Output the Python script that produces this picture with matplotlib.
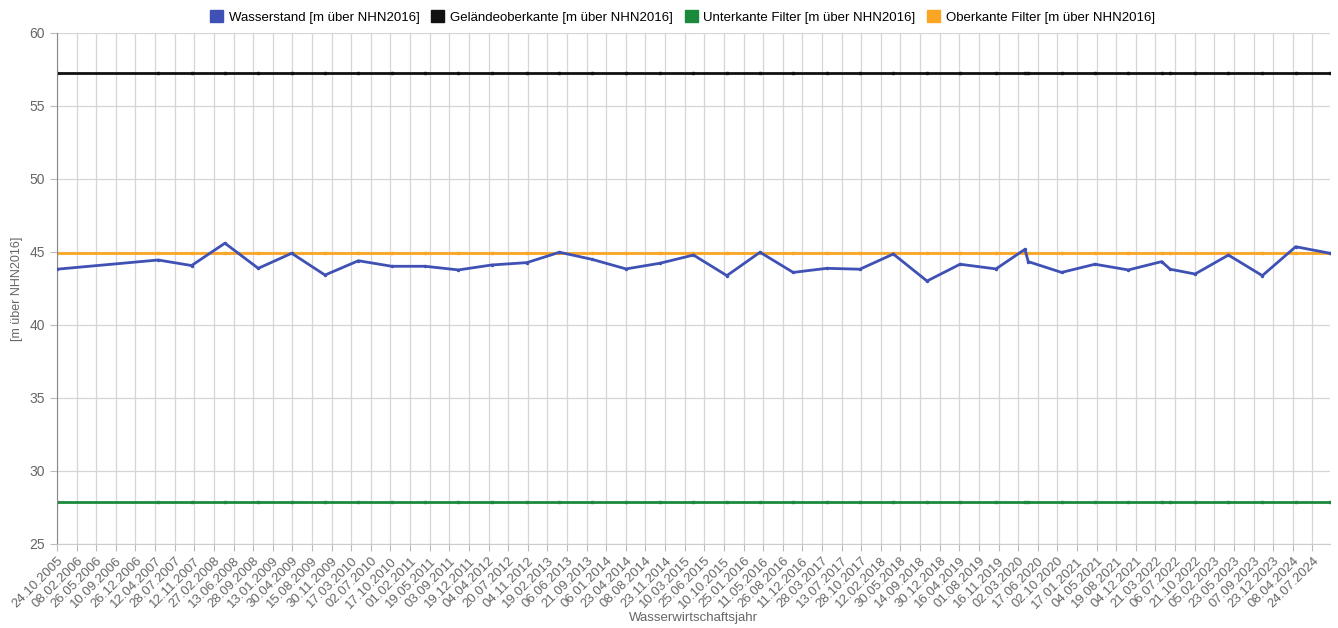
import matplotlib
matplotlib.use("Agg")
import matplotlib.dates as mdates
import matplotlib.pyplot as plt
import pandas as pd
from matplotlib.patches import Patch

plt.rcParams["font.family"] = ["Liberation Sans", "DejaVu Sans"]

# measurement dates and water level [m über NHN2016]
mess_datum = [
    "2005-10-24", "2007-04-29", "2007-10-28", "2008-04-27", "2008-10-26",
    "2009-04-26", "2009-10-25", "2010-04-25", "2010-10-24", "2011-04-24",
    "2011-10-23", "2012-04-22", "2012-10-30", "2013-04-26", "2013-10-19",
    "2014-04-24", "2014-10-27", "2015-04-27", "2015-10-26", "2016-04-24",
    "2016-10-22", "2017-04-23", "2017-10-21", "2018-04-21", "2018-10-22",
    "2019-04-20", "2019-11-02", "2020-04-08", "2020-04-26", "2020-10-25",
    "2021-04-25", "2021-10-24", "2022-04-24", "2022-06-09", "2022-10-23",
    "2023-04-23", "2023-10-25", "2024-04-24", "2024-10-28",
]
wasserstand = [
    43.82, 44.45, 44.07, 45.60, 43.88,
    44.91, 43.42, 44.40, 44.02, 44.02,
    43.77, 44.11, 44.27, 44.98, 44.50,
    43.84, 44.23, 44.79, 43.38, 44.98,
    43.60, 43.88, 43.82, 44.86, 43.01,
    44.16, 43.84, 45.18, 44.34, 43.60,
    44.16, 43.77, 44.34, 43.82, 43.49,
    44.79, 43.38, 45.36, 44.91,
]
gelaendeoberkante = 57.25
unterkante_filter = 27.9
oberkante_filter = 44.9

tick_labels = [
    "24.10.2005", "08.02.2006", "26.05.2006", "10.09.2006", "26.12.2006",
    "12.04.2007", "28.07.2007", "12.11.2007", "27.02.2008", "13.06.2008",
    "28.09.2008", "13.01.2009", "30.04.2009", "15.08.2009", "30.11.2009",
    "17.03.2010", "02.07.2010", "17.10.2010", "01.02.2011", "19.05.2011",
    "03.09.2011", "19.12.2011", "04.04.2012", "20.07.2012", "04.11.2012",
    "19.02.2013", "06.06.2013", "21.09.2013", "06.01.2014", "23.04.2014",
    "08.08.2014", "23.11.2014", "10.03.2015", "25.06.2015", "10.10.2015",
    "25.01.2016", "11.05.2016", "26.08.2016", "11.12.2016", "28.03.2017",
    "13.07.2017", "28.10.2017", "12.02.2018", "30.05.2018", "14.09.2018",
    "30.12.2018", "16.04.2019", "01.08.2019", "16.11.2019", "02.03.2020",
    "17.06.2020", "02.10.2020", "17.01.2021", "04.05.2021", "19.08.2021",
    "04.12.2021", "21.03.2022", "06.07.2022", "21.10.2022", "05.02.2023",
    "23.05.2023", "07.09.2023", "23.12.2023", "08.04.2024", "24.07.2024",
]

BLUE = "#3F51B5"
BLACK = "#111111"
GREEN = "#1B8A3C"
ORANGE = "#FBA524"
GREY = "#666666"

dates = pd.to_datetime(mess_datum)
ticks = pd.to_datetime(tick_labels, format="%d.%m.%Y")

fig = plt.figure(figsize=(13.38, 6.28), dpi=100)
ax = fig.add_axes([0.0426, 0.1338, 0.9514, 0.8137])

const_kw = dict(lw=2, marker="s", ms=2, zorder=2)
ax.plot(dates, [gelaendeoberkante] * len(dates), color=BLACK, **const_kw)
ax.plot(dates, [unterkante_filter] * len(dates), color=GREEN, **const_kw)
ax.plot(dates, [oberkante_filter] * len(dates), color=ORANGE, **const_kw)
ax.plot(dates, wasserstand, color=BLUE, lw=2, marker="o", ms=1.5, zorder=3)

ax.set_xlim(dates[0], dates[-1])
ax.set_ylim(25, 60)
ax.set_yticks(range(25, 61, 5))
ax.set_xticks(ticks)
ax.set_xticklabels(tick_labels, rotation=45, ha="right", va="top",
                   rotation_mode="anchor", fontsize=9.5, color=GREY)
ax.tick_params(axis="y", labelsize=10, colors=GREY, length=5, color="#bbbbbb")
ax.tick_params(axis="x", length=5, color="#bbbbbb", pad=3)
ax.grid(True, color="#d6d6d6", lw=0.9)
ax.set_axisbelow(True)
for side in ("top", "right"):
    ax.spines[side].set_visible(False)
ax.spines["left"].set_color("#888888")
ax.spines["bottom"].set_color("#cccccc")

ax.set_ylabel("[m über NHN2016]", fontsize=9, color=GREY, labelpad=5)
ax.set_xlabel("Wasserwirtschaftsjahr", fontsize=9.5, color=GREY, labelpad=1)

handles = [Patch(color=c) for c in (BLUE, BLACK, GREEN, ORANGE)]
names = ["Wasserstand [m über NHN2016]", "Geländeoberkante [m über NHN2016]",
         "Unterkante Filter [m über NHN2016]", "Oberkante Filter [m über NHN2016]"]
fig.legend(handles, names, loc="center", bbox_to_anchor=(0.51, 0.973), ncol=4,
           frameon=False, fontsize=9.5, handlelength=1.0, handleheight=1.0,
           handletextpad=0.4, columnspacing=0.9)

fig.savefig("out.png", dpi=100)
